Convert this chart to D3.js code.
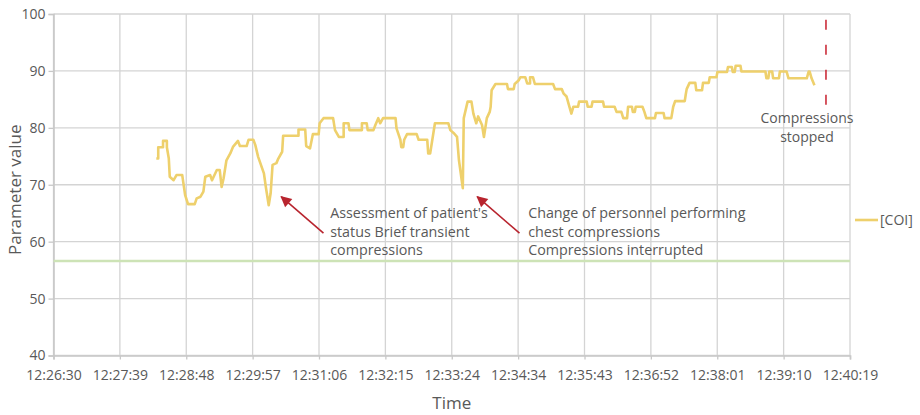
<!DOCTYPE html>
<html>
<head>
<meta charset="utf-8">
<script src="https://cdn.jsdelivr.net/npm/d3@7"></script>
<style>
  body { margin: 0; background: #fff; }
  svg text { font-family: "Open Sans", sans-serif; fill: #595959; }
</style>
</head>
<body>
<svg id="chart" width="920" height="415"></svg>
<script>
// time axis labels (every 69 s)
var timeTicks = ['12:26:30', '12:27:39', '12:28:48', '12:29:57', '12:31:06', '12:32:15', '12:33:24',
                 '12:34:34', '12:35:43', '12:36:52', '12:38:01', '12:39:10', '12:40:19'];
var valueTicks = [40, 50, 60, 70, 80, 90, 100];

// [COI] series
var coiTimes = ['12:28:17', '12:28:19', '12:28:19', '12:28:24', '12:28:24', '12:28:28', '12:28:28', '12:28:30',
  '12:28:31', '12:28:35', '12:28:38', '12:28:44', '12:28:45', '12:28:47', '12:28:50', '12:28:57', '12:28:59',
  '12:29:03', '12:29:06', '12:29:08', '12:29:13', '12:29:15', '12:29:20', '12:29:23', '12:29:25', '12:29:27',
  '12:29:30', '12:29:34', '12:29:37', '12:29:42', '12:29:44', '12:29:51', '12:29:53', '12:29:58', '12:30:00',
  '12:30:03', '12:30:09', '12:30:11', '12:30:14', '12:30:16', '12:30:18', '12:30:22', '12:30:24', '12:30:28',
  '12:30:29', '12:30:30', '12:30:45', '12:30:45', '12:30:52', '12:30:53', '12:30:57', '12:31:00', '12:31:06',
  '12:31:07', '12:31:11', '12:31:21', '12:31:23', '12:31:27', '12:31:32', '12:31:32', '12:31:37', '12:31:38',
  '12:31:51', '12:31:51', '12:31:56', '12:31:57', '12:32:03', '12:32:05', '12:32:08', '12:32:10', '12:32:13',
  '12:32:26', '12:32:27', '12:32:31', '12:32:32', '12:32:34', '12:32:35', '12:32:38', '12:32:48', '12:32:50',
  '12:32:59', '12:33:00', '12:33:02', '12:33:04', '12:33:07', '12:33:21', '12:33:23', '12:33:27', '12:33:30',
  '12:33:32', '12:33:36', '12:33:37', '12:33:41', '12:33:45', '12:33:47', '12:33:50', '12:33:52', '12:33:56',
  '12:33:58', '12:34:01', '12:34:04', '12:34:05', '12:34:06', '12:34:10', '12:34:22', '12:34:23', '12:34:29',
  '12:34:30', '12:34:34', '12:34:36', '12:34:41', '12:34:43', '12:34:46', '12:34:46', '12:34:49', '12:34:51',
  '12:35:10', '12:35:12', '12:35:19', '12:35:21', '12:35:24', '12:35:27', '12:35:29', '12:35:31', '12:35:36',
  '12:35:37', '12:35:45', '12:35:46', '12:35:50', '12:35:51', '12:36:02', '12:36:03', '12:36:14', '12:36:16',
  '12:36:21', '12:36:23', '12:36:27', '12:36:28', '12:36:32', '12:36:33', '12:36:35', '12:36:36', '12:36:43',
  '12:36:45', '12:36:47', '12:36:56', '12:36:57', '12:37:05', '12:37:06', '12:37:13', '12:37:15', '12:37:17',
  '12:37:27', '12:37:28', '12:37:29', '12:37:32', '12:37:38', '12:37:39', '12:37:45', '12:37:46', '12:37:52',
  '12:37:53', '12:38:00', '12:38:01', '12:38:11', '12:38:12', '12:38:16', '12:38:17', '12:38:19', '12:38:20',
  '12:38:25', '12:38:26', '12:38:51', '12:38:52', '12:38:54', '12:38:55', '12:38:58', '12:38:59', '12:39:05',
  '12:39:06', '12:39:13', '12:39:15', '12:39:34', '12:39:36', '12:39:37', '12:39:39', '12:39:42'];
var coiValues = [74.6, 74.6, 76.6, 76.6, 77.7, 77.7, 76.6, 74.6,
  71.4, 70.8, 71.7, 71.7, 70.5, 68.2, 66.6, 66.6, 67.6,
  67.9, 68.8, 71.4, 71.7, 70.8, 72.6, 72.6, 69.6, 71.1,
  74.3, 75.5, 76.7, 77.7, 76.8, 76.8, 77.9, 77.9, 77.0,
  74.9, 72.0, 69.6, 66.4, 68.5, 73.5, 73.8, 74.6, 75.8,
  78.6, 78.6, 78.6, 79.7, 79.7, 76.8, 76.4, 78.9, 78.9,
  80.8, 81.7, 81.7, 79.6, 78.4, 78.4, 80.8, 80.8, 79.6,
  79.6, 80.8, 80.8, 79.6, 79.6, 80.5, 81.7, 80.8, 81.7,
  81.7, 79.9, 77.9, 76.6, 76.6, 77.9, 78.9, 78.9, 77.9,
  77.9, 75.5, 75.5, 77.6, 80.8, 80.8, 79.6, 79.0, 78.4,
  74.3, 69.4, 81.7, 84.6, 84.6, 82.5, 80.8, 82.0, 80.5,
  78.4, 81.7, 82.8, 83.7, 86.6, 87.7, 87.7, 86.8, 86.8,
  87.7, 88.3, 88.9, 88.9, 87.8, 87.8, 88.9, 88.9, 87.7,
  87.7, 86.8, 86.8, 86.0, 85.5, 83.7, 82.5, 83.7, 83.7,
  84.6, 84.6, 83.7, 83.7, 84.6, 84.6, 83.7, 83.7, 82.8,
  82.8, 81.7, 81.7, 83.7, 83.7, 82.8, 82.8, 83.7, 83.7,
  82.8, 81.7, 81.7, 82.6, 82.6, 81.7, 81.7, 83.7, 84.7,
  84.7, 85.8, 86.8, 87.9, 87.9, 86.6, 86.6, 87.9, 87.9,
  88.9, 88.9, 89.8, 89.8, 90.7, 90.7, 89.8, 89.8, 90.9,
  90.9, 89.9, 89.9, 88.7, 88.7, 89.9, 89.9, 88.7, 88.7,
  89.9, 89.9, 88.7, 88.7, 89.9, 89.9, 88.7, 87.5];

var refValue = 56.6;          // flat green reference line
var stopTime = '12:39:54';    // compressions stopped marker
var stopRange = [99, 84];

var annotations = [
  { lines: ["Assessment of patient's", 'status Brief transient', 'compressions'],
    head: ['12:30:27', 67.9], tail: ['12:31:11', 61.5], textAt: ['12:31:18', 65] },
  { lines: ['Change of personnel performing', 'chest compressions', 'Compressions interrupted'],
    head: ['12:33:51', 67.9], tail: ['12:34:35', 61.5], textAt: ['12:34:44', 65] }
];

var parseTime = d3.timeParse('%H:%M:%S');
var data = coiTimes.map(function(t, i) {
  return { t: parseTime(t), v: coiValues[i] };
});

var svg = d3.select('#chart');
var margin = { left: 53.5, right: 70, top: 14, bottom: 59.5 };
var width = 920 - margin.left - margin.right,
    height = 415 - margin.top - margin.bottom;

var x = d3.scaleTime()
  .domain([parseTime(timeTicks[0]), parseTime(timeTicks[timeTicks.length - 1])])
  .range([margin.left, margin.left + width]);
var y = d3.scaleLinear()
  .domain([40, 100])
  .range([margin.top + height, margin.top]);

// tick positions are evenly spaced across the domain
var tickDates = timeTicks.map(function(d, i) {
  return new Date(+x.domain()[0] + i * (x.domain()[1] - x.domain()[0]) / (timeTicks.length - 1));
});

var grid = svg.append('g');
grid.selectAll('.hg')
  .data(valueTicks)
  .enter().append('line')
    .attr('x1', margin.left).attr('x2', margin.left + width)
    .attr('y1', function(d) { return y(d); })
    .attr('y2', function(d) { return y(d); })
    .attr('stroke', '#d4d4d4')
    .attr('stroke-width', 1.3);
grid.selectAll('.vg')
  .data(tickDates)
  .enter().append('line')
    .attr('x1', function(d) { return x(d); })
    .attr('x2', function(d) { return x(d); })
    .attr('y1', margin.top).attr('y2', margin.top + height)
    .attr('stroke', '#d4d4d4')
    .attr('stroke-width', 1.3);

// axes
var yAxis = svg.append('g')
  .attr('transform', 'translate(' + margin.left + ',0)')
  .call(d3.axisLeft(y).tickValues(valueTicks).tickSize(5).tickPadding(3));
var xAxis = svg.append('g')
  .attr('transform', 'translate(0,' + (margin.top + height) + ')')
  .call(d3.axisBottom(x).tickValues(tickDates).tickSize(4).tickPadding(11)
    .tickFormat(function(d, i) { return timeTicks[i]; }));
[xAxis, yAxis].forEach(function(a) {
  a.select('.domain').attr('stroke', '#c8c8c8').attr('stroke-width', 1.6);
  a.selectAll('.tick line').attr('stroke', '#c8c8c8').attr('stroke-width', 1.3);
  a.selectAll('.tick text')
    .style('font-family', '"Open Sans", sans-serif')
    .style('font-size', '14px')
    .attr('fill', '#595959');
});

// reference line
svg.append('line')
  .attr('x1', margin.left).attr('x2', margin.left + width)
  .attr('y1', y(refValue)).attr('y2', y(refValue))
  .attr('stroke', '#cde3b6')
  .attr('stroke-width', 2.5);

// COI series
var line = d3.line()
  .x(function(d) { return x(d.t); })
  .y(function(d) { return y(d.v); });
svg.append('path')
  .datum(data)
  .attr('d', line)
  .attr('fill', 'none')
  .attr('stroke', '#eed06c')
  .attr('stroke-width', 2.6)
  .attr('stroke-linejoin', 'round');

// compressions stopped marker
svg.append('line')
  .attr('x1', x(parseTime(stopTime))).attr('x2', x(parseTime(stopTime)))
  .attr('y1', y(stopRange[0])).attr('y2', y(stopRange[1]))
  .attr('stroke', '#c8202e')
  .attr('stroke-width', 1.5)
  .attr('stroke-dasharray', '10,15');
svg.append('text')
  .attr('y', 123)
  .attr('text-anchor', 'middle')
  .style('font-size', '14px')
  .selectAll('tspan')
  .data(['Compressions', 'stopped'])
  .enter().append('tspan')
    .attr('x', x(parseTime(stopTime)) - 19)
    .attr('dy', function(d, i) { return i ? 18.5 : 0; })
    .text(function(d) { return d; });

// arrows and notes
var defs = svg.append('defs');
defs.append('marker')
  .attr('id', 'arrow')
  .attr('viewBox', '0 0 10 10')
  .attr('refX', 9).attr('refY', 5)
  .attr('markerWidth', 13).attr('markerHeight', 11)
  .attr('markerUnits', 'userSpaceOnUse')
  .attr('orient', 'auto')
  .append('path')
    .attr('d', 'M0,0L10,5L0,10z')
    .attr('fill', '#b8242e');

annotations.forEach(function(a) {
  svg.append('line')
    .attr('x1', x(parseTime(a.tail[0]))).attr('y1', y(a.tail[1]))
    .attr('x2', x(parseTime(a.head[0]))).attr('y2', y(a.head[1]))
    .attr('stroke', '#b8242e')
    .attr('stroke-width', 1.6)
    .attr('marker-end', 'url(#arrow)');
  svg.append('text')
    .attr('y', y(a.textAt[1]) + 5)
    .style('font-size', '14.3px')
    .selectAll('tspan')
    .data(a.lines)
    .enter().append('tspan')
      .attr('x', x(parseTime(a.textAt[0])))
      .attr('dy', function(d, i) { return i ? 18.5 : 0; })
      .text(function(d) { return d; });
});

// legend
svg.append('line')
  .attr('x1', 855).attr('x2', 878)
  .attr('y1', 220).attr('y2', 220)
  .attr('stroke', '#eed06c')
  .attr('stroke-width', 2.6);
svg.append('text')
  .attr('x', 880).attr('y', 225)
  .style('font-size', '14px')
  .text('[COI]');

// axis titles
svg.append('text')
  .attr('transform', 'translate(21,' + (margin.top + height / 2 + 5) + ') rotate(-90)')
  .attr('text-anchor', 'middle')
  .style('font-size', '17px')
  .text('Parameter value');
svg.append('text')
  .attr('x', margin.left + width / 2)
  .attr('y', 409)
  .attr('text-anchor', 'middle')
  .style('font-size', '17px')
  .text('Time');
</script>
</body>
</html>
